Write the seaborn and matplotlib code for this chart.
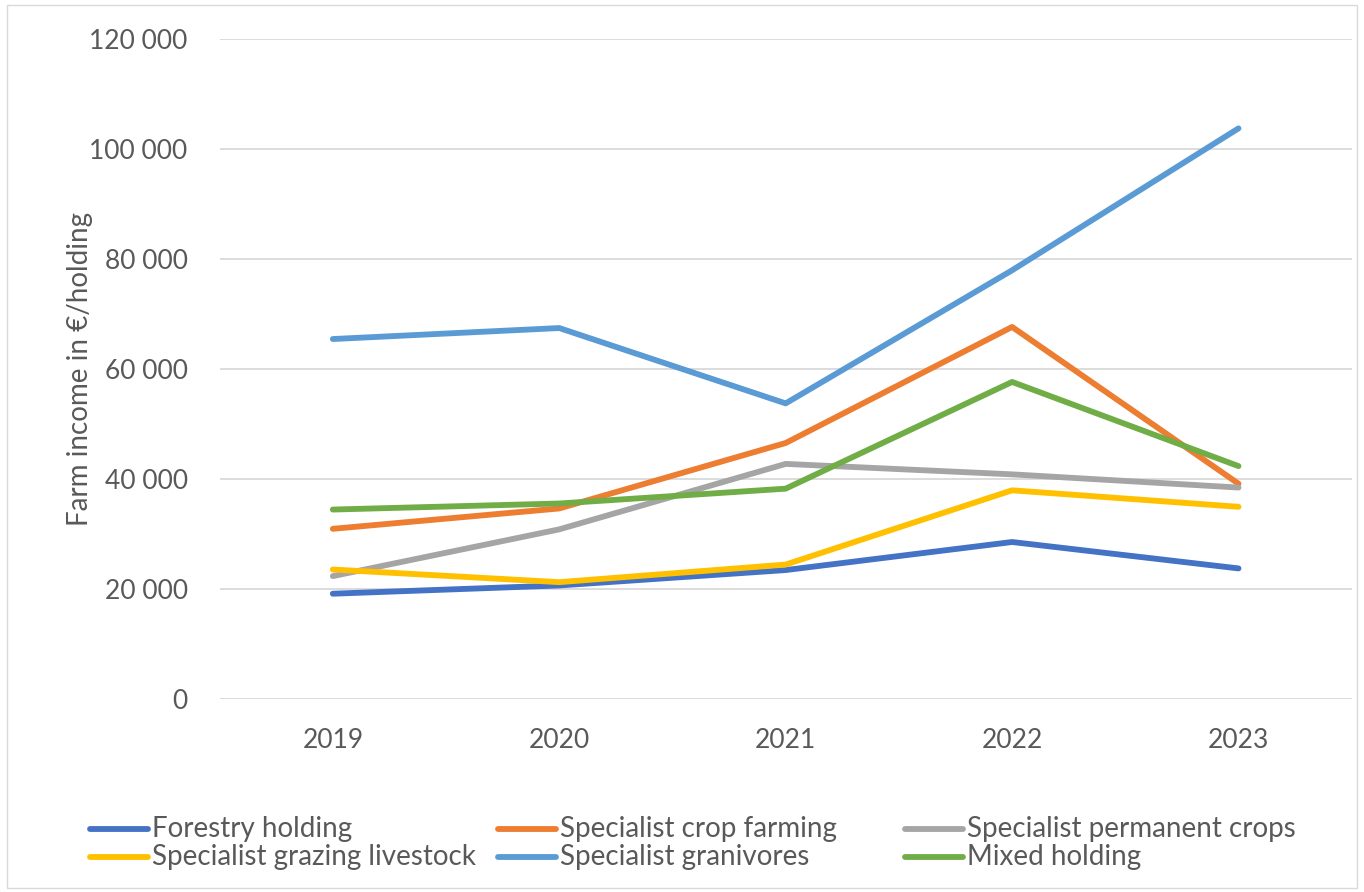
import matplotlib
matplotlib.use("Agg")
import matplotlib.pyplot as plt
from matplotlib.ticker import FuncFormatter
from matplotlib.patches import Rectangle
from matplotlib.lines import Line2D
import pandas as pd
import seaborn as sns

# values (euro per holding)
years = ["2019", "2020", "2021", "2022", "2023"]
forestry = [19200, 20700, 23500, 28600, 23800]
crop_farming = [31000, 34700, 46600, 67700, 39200]
permanent_crops = [22400, 30900, 42800, 40900, 38500]
grazing_livestock = [23600, 21300, 24500, 38000, 35000]
granivores = [65500, 67500, 53800, 78000, 103800]
mixed = [34500, 35600, 38300, 57700, 42400]

series_names = ["Forestry holding", "Specialist crop farming", "Specialist permanent crops",
                "Specialist grazing livestock", "Specialist granivores", "Mixed holding"]
series_values = [forestry, crop_farming, permanent_crops, grazing_livestock, granivores, mixed]
colors = ["#4472C4", "#ED7D31", "#A5A5A5", "#FFC000", "#5B9BD5", "#70AD47"]

rows = []
for name, vals in zip(series_names, series_values):
    for yr, v in zip(years, vals):
        rows.append({"year": yr, "income": v, "type": name})
df = pd.DataFrame(rows)

sns.set_style("white")
plt.rcParams['font.family'] = ['Lato', 'DejaVu Sans']
text_color = "#595959"
W, H = 1364, 892

fig = plt.figure(figsize=(W / 100, H / 100), dpi=100)
ax = fig.add_axes([0.161, 0.216, 0.83, 0.74])

sns.lineplot(data=df, x="year", y="income", hue="type", palette=colors,
             hue_order=series_names, linewidth=4.2, ax=ax, legend=False, sort=False)
for ln in ax.get_lines():
    ln.set_solid_capstyle("round")
    ln.set_solid_joinstyle("round")

ax.set_ylim(0, 120000)
ax.set_xlim(-0.5, 4.5)
ax.set_yticks(range(0, 120001, 20000))
ax.yaxis.set_major_formatter(FuncFormatter(lambda v, p: f"{int(v):,}".replace(",", " ")))
ax.grid(axis="y", color="#d9d9d9", linewidth=1.3)
ax.set_axisbelow(True)
for s in ax.spines.values():
    s.set_visible(False)
ax.tick_params(axis="both", length=0, labelsize=19, colors=text_color)
ax.tick_params(axis="y", pad=23)
ax.tick_params(axis="x", pad=21)
ax.set_xlabel("")
ax.set_ylabel("Farm income in €/holding", fontsize=20, color=text_color)
ax.yaxis.set_label_coords(-0.112, 0.5)

# legend laid out like the Excel one: three equal columns, two rows
col_x = [90, 498, 905]
row_y = [829, 857]
for i, (name, c) in enumerate(zip(series_names, colors)):
    x0 = col_x[i % 3]
    y0 = row_y[i // 3]
    fig.add_artist(Line2D([x0 / W, (x0 + 58) / W], [1 - y0 / H, 1 - y0 / H],
                          color=c, linewidth=4.2, solid_capstyle="round",
                          transform=fig.transFigure))
    fig.text((x0 + 62) / W, 1 - y0 / H, name, fontsize=20, color=text_color,
             va="center", ha="left")

fig.patches.append(Rectangle((0.005, 0.004), 0.99, 0.99, transform=fig.transFigure,
                             fill=False, edgecolor="#d9d9d9", linewidth=1))

fig.savefig("out.png", dpi=100)
